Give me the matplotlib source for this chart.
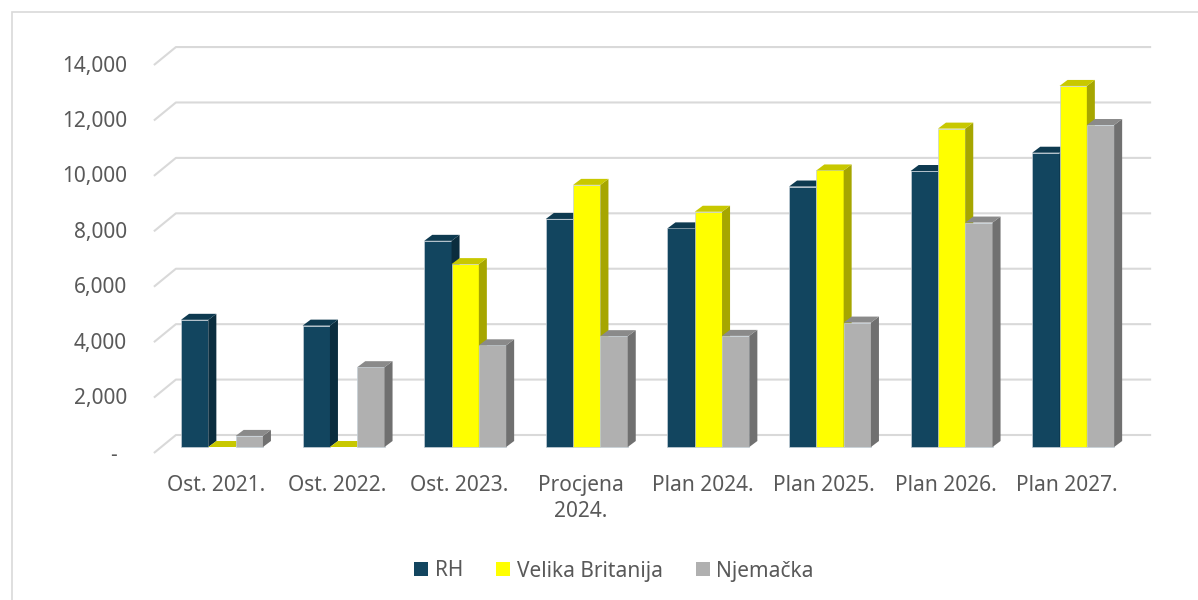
import matplotlib
matplotlib.use("Agg")
import matplotlib.pyplot as plt
import matplotlib.transforms as mtransforms
from matplotlib.patches import Polygon, Patch, Rectangle

plt.rcParams['font.family'] = ['Noto Sans', 'DejaVu Sans']

categories = ["Ost. 2021.", "Ost. 2022.", "Ost. 2023.", "Procjena\n2024.",
              "Plan 2024.", "Plan 2025.", "Plan 2026.", "Plan 2027."]
rh = [4590, 4380, 7440, 8230, 7890, 9400, 9960, 10620]
velika_britanija = [0, 0, 6600, 9460, 8490, 9980, 11490, 13030]
njemacka = [400, 2880, 3670, 4000, 4010, 4490, 8100, 11620]
series_names = ["RH", "Velika Britanija", "Njemačka"]
y_ticks = [0, 2000, 4000, 6000, 8000, 10000, 12000, 14000]
y_ticklabels = ["-", "2,000", "4,000", "6,000", "8,000", "10,000", "12,000", "14,000"]

# colours: front, top, side
colors = [("#12455f", "#0e3a50", "#0b2d3e"),
          ("#ffff00", "#c8c800", "#a6a600"),
          ("#b0b0b0", "#8a8a8a", "#707070")]
text_color = "#595959"
grid_color = "#d9d9d9"
fs = 15

W, H = 1198, 600
fig = plt.figure(figsize=(W / 100, H / 100), dpi=100)
ax = fig.add_axes([0, 0, 1, 1])
ax.axis("off")

# pixel layout of the (pseudo 3D) bar plane
x0_px, step_px = 222, 121.6
y0_px, px_per_unit = 447, 0.02771
ax.set_xlim(-x0_px / step_px, (W - x0_px) / step_px)
ax.set_ylim(-(H - y0_px) / px_per_unit, y0_px / px_per_unit)

def dx(px):
    return px / step_px

def dy(px):
    return px / px_per_unit

# back wall gridlines + left wall diagonals
x_left, x_right = -0.5, 7.52
for v in y_ticks:
    ax.plot([x_left + dx(-7.3), x_left + dx(14.7), x_right + dx(14.7)],
            [v + dy(-6), v + dy(12), v + dy(12)],
            color=grid_color, lw=1.5, solid_capstyle="butt", zorder=1)

# bars
bw = 27.3 / step_px
ddx, ddy = dx(8), dy(6)
all_series = [rh, velika_britanija, njemacka]
for i in range(len(categories)):
    for s, vals in enumerate(all_series):
        v = vals[i]
        x0 = i + (s - 1.5) * bw
        x1 = x0 + bw
        front, top, side = colors[s]
        z = 2 + i * 10 + s * 3
        if v > 0:
            ax.add_patch(Rectangle((x0, 0), bw, v, facecolor=front,
                                   edgecolor="#c5d0d8", lw=0.5, zorder=z))
            ax.add_patch(Polygon([(x1, 0), (x1, v), (x1 + ddx, v + ddy), (x1 + ddx, ddy)],
                                 closed=True, facecolor=side, edgecolor="none", zorder=z + 1))
        ax.add_patch(Polygon([(x0, v), (x1, v), (x1 + ddx, v + ddy), (x0 + ddx, v + ddy)],
                             closed=True, facecolor=top, edgecolor="none", zorder=z + 2))

# y tick labels at the front edge
for v, lab in zip(y_ticks, y_ticklabels):
    if lab == "-":
        tr = mtransforms.offset_copy(ax.transData, fig, x=-48, y=-8, units="dots")
        ax.text(x_left, v, lab, transform=tr, ha="center", va="center",
                fontsize=fs, color=text_color)
    else:
        tr = mtransforms.offset_copy(ax.transData, fig, x=-34, y=-7, units="dots")
        ax.text(x_left, v, lab, transform=tr, ha="right", va="center",
                fontsize=fs, color=text_color)

# category labels
tr = mtransforms.offset_copy(ax.transData, fig, x=-6, y=-28, units="dots")
for i, lab in enumerate(categories):
    ax.text(i, 0, lab, transform=tr, ha="center", va="top", fontsize=fs,
            color=text_color, linespacing=1.3)

# legend
handles = [Patch(facecolor=colors[s][0], edgecolor="none", label=series_names[s])
           for s in range(3)]
fig.legend(handles=handles, loc="center", bbox_to_anchor=(614 / W, 1 - 571 / H),
           ncol=3, frameon=False, fontsize=fs, handlelength=0.68, handleheight=0.68,
           handletextpad=0.3, columnspacing=1.6, labelcolor=text_color)

# chart area border
fig.patches.append(Rectangle((12, -10), W + 20, H - 12 + 10, transform=None,
                             fill=False, edgecolor="#d9d9d9", lw=1.2))

fig.savefig("out.png", dpi=100)
